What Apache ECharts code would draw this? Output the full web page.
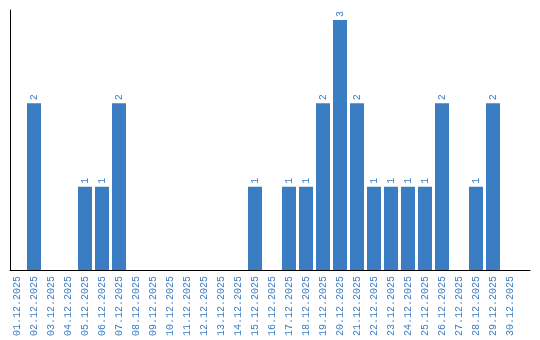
<!DOCTYPE html>
<html><head><meta charset="utf-8">
<script src="https://cdn.jsdelivr.net/npm/echarts@6/dist/echarts.min.js"></script>
<style>html,body{margin:0;padding:0;background:#fff}#c{width:540px;height:340px}</style>
</head><body><div id="c"></div>
<script>
const categories = ['01.12.2025','02.12.2025','03.12.2025','04.12.2025','05.12.2025','06.12.2025','07.12.2025','08.12.2025','09.12.2025','10.12.2025','11.12.2025','12.12.2025','13.12.2025','14.12.2025','15.12.2025','16.12.2025','17.12.2025','18.12.2025','19.12.2025','20.12.2025','21.12.2025','22.12.2025','23.12.2025','24.12.2025','25.12.2025','26.12.2025','27.12.2025','28.12.2025','29.12.2025','30.12.2025'];
const values = [0,2,0,0,1,1,2,0,0,0,0,0,0,0,1,0,1,1,2,3,2,1,1,1,1,2,0,1,2,0];
const blue = '#3b7dc2';
const chart = echarts.init(document.getElementById('c'));
chart.setOption({
  animation:false,
  grid:[
    {left:8.5, right:21.5, top:10, bottom:70},
    {left:10, right:10, top:10, bottom:70}
  ],
  xAxis:[
    {type:'category', gridIndex:0, data:categories, axisLine:{show:false}, axisTick:{show:false},
     axisLabel:{rotate:90, margin:6, interval:0, color:blue, fontFamily:'Liberation Mono', fontSize:10}},
    {type:'value', gridIndex:1, min:0, max:1, axisLine:{show:true, lineStyle:{color:'#000', width:1}}, axisTick:{show:false}, axisLabel:{show:false}, splitLine:{show:false}}
  ],
  yAxis:[
    {type:'value', gridIndex:0, min:0, max:3.12, axisLine:{show:false}, axisTick:{show:false}, axisLabel:{show:false}, splitLine:{show:false}},
    {type:'value', gridIndex:1, min:0, max:1, axisLine:{show:true, lineStyle:{color:'#000', width:1}}, axisTick:{show:false}, axisLabel:{show:false}, splitLine:{show:false}}
  ],
  series:[{
    type:'bar', xAxisIndex:0, yAxisIndex:0, data:values, barWidth:14,
    itemStyle:{color:blue},
    label:{show:true, position:'top', rotate:90, align:'left', verticalAlign:'middle', distance:3, color:blue, fontFamily:'Liberation Mono', fontSize:10,
      formatter:p=>p.value?String(p.value):''}
  }]
});
</script></body></html>
